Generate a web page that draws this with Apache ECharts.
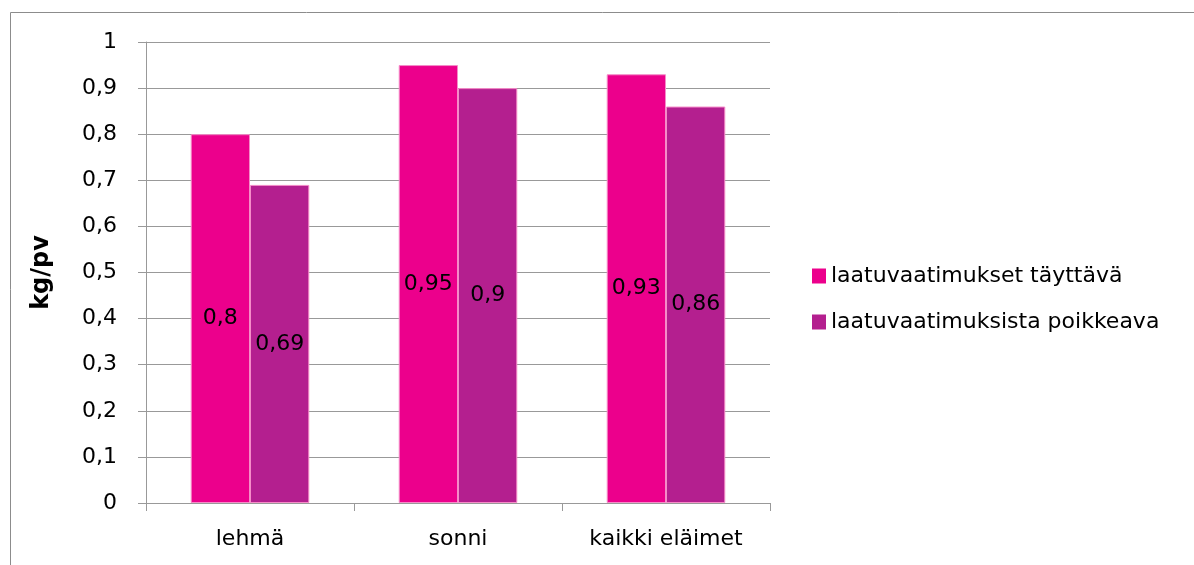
<!DOCTYPE html>
<html>
<head>
<meta charset="utf-8">
<script src="https://cdn.jsdelivr.net/npm/echarts@6/dist/echarts.min.js"></script>
<style>
  html, body { margin: 0; padding: 0; background: #fff; }
  #main { width: 1194px; height: 565px; }
</style>
</head>
<body>
<div id="main"></div>
<script>
let categories = ['lehmä', 'sonni', 'kaikki eläimet'];
let seriesNames = ['laatuvaatimukset täyttävä', 'laatuvaatimuksista poikkeava'];
let tayttava = [0.8, 0.95, 0.93];
let poikkeava = [0.69, 0.9, 0.86];
let colors = ['#ec008c', '#b41f8f'];

let font = 'DejaVu Sans';
let myChart = echarts.init(document.getElementById('main'));

function commaLabel(p){
    return String(p.value).replace('.', ',');
}

myChart.setOption({
    animation: false,
    textStyle: { fontFamily: font },
    graphic: [{
        type: 'rect',
        shape: { x: 10.5, y: 12.5, width: 1200, height: 600 },
        style: { fill: 'none', stroke: '#8c8c8c', lineWidth: 1 },
        silent: true
    }],
    grid: { left: 146, right: 424, top: 42, bottom: 62 },
    legend: {
        orient: 'vertical',
        left: 807,
        top: 260,
        itemWidth: 14,
        itemHeight: 15,
        itemGap: 24,
        icon: 'rect',
        itemStyle: { borderWidth: 0 },
        textStyle: { fontSize: 22, color: '#000', fontFamily: font },
        data: seriesNames
    },
    xAxis: {
        type: 'category',
        data: categories,
        axisLine: { lineStyle: { color: '#999', width: 1 } },
        axisTick: { show: true, length: 8, lineStyle: { color: '#999' } },
        axisLabel: { fontSize: 22, color: '#000', margin: 25 }
    },
    yAxis: {
        type: 'value',
        min: 0,
        max: 1,
        interval: 0.1,
        name: 'kg/pv',
        nameLocation: 'middle',
        nameGap: 92,
        nameTextStyle: { fontSize: 24, fontWeight: 'bold', color: '#000' },
        axisLine: { show: true, lineStyle: { color: '#999', width: 1 } },
        axisTick: { show: true, inside: false, length: 8, lineStyle: { color: '#999' } },
        splitLine: { lineStyle: { color: '#999', width: 1 } },
        axisLabel: {
            fontSize: 22, color: '#000', margin: 29,
            formatter: v => String(Math.round(v * 10) / 10).replace('.', ',')
        }
    },
    series: [
        {
            name: seriesNames[0],
            type: 'bar',
            data: tayttava,
            barGap: '0%',
            barCategoryGap: '43%',
            itemStyle: { color: colors[0], borderColor: '#f58cc8', borderWidth: 1 },
            label: { show: true, position: 'inside', fontSize: 22, color: '#000', formatter: commaLabel }
        },
        {
            name: seriesNames[1],
            type: 'bar',
            data: poikkeava,
            itemStyle: { color: colors[1], borderColor: '#f58cc8', borderWidth: 1 },
            label: { show: true, position: 'inside', fontSize: 22, color: '#000', formatter: commaLabel }
        }
    ]
});
</script>
</body>
</html>
